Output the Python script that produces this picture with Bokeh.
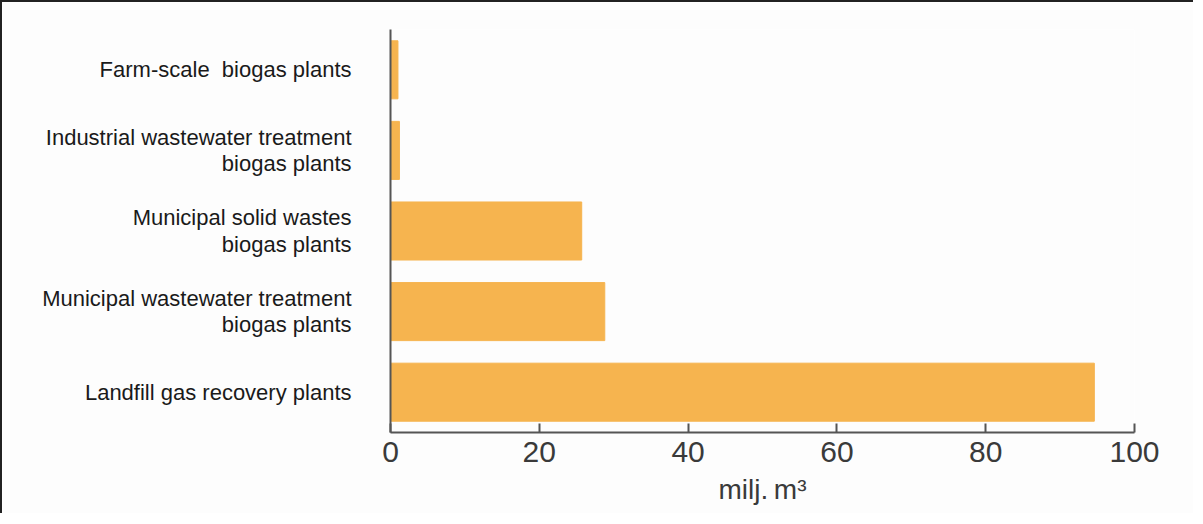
from bokeh.plotting import figure
from bokeh.models import FactorRange, Range1d, FixedTicker
from bokeh.embed import file_html
from bokeh.resources import INLINE

categories = [
    "Landfill gas recovery plants",
    "Municipal wastewater treatment\nbiogas plants",
    "Municipal solid wastes\nbiogas plants",
    "Industrial wastewater treatment\nbiogas plants",
    "Farm-scale\u00a0\u00a0biogas plants",
]
values = [94.6, 28.8, 25.7, 1.2, 1.0]
x_ticks = [0, 20, 40, 60, 80, 100]
x_label = "milj.\u2009m³"

p = figure(width=1193, height=513, y_range=FactorRange(*categories),
           x_range=Range1d(0, 100), output_backend="svg", toolbar_location=None,
           min_border_left=388, min_border_top=27, min_border_right=61, min_border_bottom=83)
p.styles = {"border-left": "2px solid #222", "border-top": "2px solid #222"}
p.background_fill_color = "#fdfdfd"
p.border_fill_color = "#fdfdfd"
p.outline_line_color = None
p.xgrid.grid_line_color = None
p.ygrid.grid_line_color = None

p.hbar(y=categories, right=values, left=0, height=0.72, color="#F6B44F")

xa = p.xaxis[0]
xa.ticker = FixedTicker(ticks=x_ticks)
xa.minor_tick_line_color = None
xa.major_tick_in = 9
xa.major_tick_out = 0
xa.axis_line_color = "#555555"
xa.axis_line_width = 2
xa.major_tick_line_color = "#555555"
xa.major_tick_line_width = 2
xa.major_label_text_font = "Liberation Sans"
xa.major_label_text_font_size = "30px"
xa.major_label_text_color = "#3a3a3a"
xa.major_label_standoff = 9
xa.axis_label = x_label
xa.axis_label_text_font = "Liberation Sans"
xa.axis_label_text_font_size = "28px"
xa.axis_label_text_font_style = "normal"
xa.axis_label_text_color = "#3a3a3a"
xa.axis_label_standoff = 9

ya = p.yaxis[0]
ya.major_tick_line_color = None
ya.minor_tick_line_color = None
ya.axis_line_color = "#555555"
ya.axis_line_width = 2
ya.major_label_text_font = "Liberation Sans"
ya.major_label_text_font_size = "22px"
ya.major_label_text_color = "#1a1a1a"
ya.major_label_standoff = 33
ya.major_label_text_line_height = 1.06

open("out.html", "w").write(file_html(p, INLINE))
